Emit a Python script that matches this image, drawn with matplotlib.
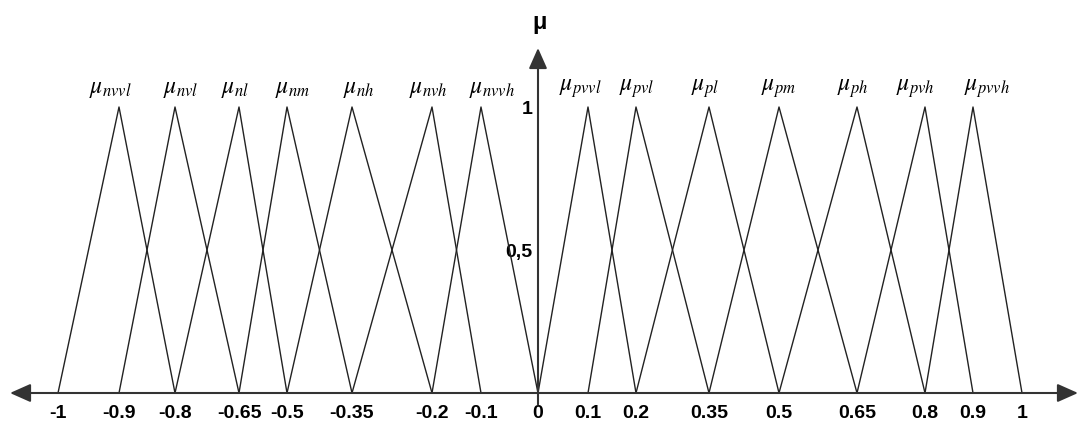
import numpy as np
import matplotlib.pyplot as plt

# universe of discourse: breakpoints of the fuzzy partition
breaks = [-1, -0.9, -0.8, -0.65, -0.5, -0.35, -0.2, -0.1, 0,
          0.1, 0.2, 0.35, 0.5, 0.65, 0.8, 0.9, 1]
tick_labels = ['-1', '-0.9', '-0.8', '-0.65', '-0.5', '-0.35', '-0.2', '-0.1', '0',
               '0.1', '0.2', '0.35', '0.5', '0.65', '0.8', '0.9', '1']

# fuzzy sets, left to right (negative side, then positive side)
neg_sets = ['nvvl', 'nvl', 'nl', 'nm', 'nh', 'nvh', 'nvvh']
pos_sets = ['pvvl', 'pvl', 'pl', 'pm', 'ph', 'pvh', 'pvvh']
tri_mu = [0, 1, 0]  # membership at left foot, peak, right foot

y_ticks = [0.5, 1]
y_tick_labels = ['0,5', '1']

# --- layout: the hand drawn original has uneven spacing between breakpoints
px_knots = [58, 119, 175, 239, 287, 352, 432, 481, 538,
            588, 636, 709, 779, 857, 925, 973, 1022]
kv = np.r_[-2, breaks, 2]
kp = np.r_[58 - 600, px_knots, 1022 + 490]


def fwd(v):
    return np.interp(v, kv, kp)


def inv(p):
    return np.interp(p, kp, kv)


W, H = 1081, 434
y_axis_px = 393   # pixel row of mu = 0
unit_px = 286     # pixels per membership unit

plt.rcParams['mathtext.fontset'] = 'stix'
fig = plt.figure(figsize=(W / 100, H / 100), dpi=100)
ax = fig.add_axes([0, 0, 1, 1])
ax.set_xscale('function', functions=(fwd, inv))
ax.set_xlim(inv(0), inv(W))
ax.set_ylim(-(H - y_axis_px) / unit_px, y_axis_px / unit_px)

line_kw = dict(color='#222222', lw=1.0)
names = neg_sets + pos_sets
starts = list(range(0, 7)) + list(range(8, 15))
label_dx = [-9, 6, -4, 6, 7, -4, 11, -8, 1, -4, 0, -4, -10, 14]  # px nudges of the labels
for name, k, dx in zip(names, starts, label_dx):
    xs = breaks[k:k + 3]
    ax.plot(xs, tri_mu, **line_kw)
    peak = xs[1]
    ax.annotate(r'$\mu_{%s}$' % name, xy=(peak, 1.066), xytext=(dx * 0.72, 0),
                textcoords='offset points', ha='center', va='center', fontsize=17)

# axes drawn as arrows
ax.annotate('', xy=(inv(1078), 0), xytext=(inv(10), 0),
            arrowprops=dict(arrowstyle='<|-|>,head_length=0.9,head_width=0.4',
                            color='#333333', lw=1.5, shrinkA=0, shrinkB=0,
                            mutation_scale=14))
ax.annotate('', xy=(0, (y_axis_px - 48) / unit_px), xytext=(0, -0.04),
            arrowprops=dict(arrowstyle='-|>,head_length=0.9,head_width=0.4',
                            color='#333333', lw=1.5, shrinkA=0, shrinkB=0,
                            mutation_scale=14))
ax.text(0.003, (y_axis_px - 22) / unit_px, 'μ', ha='center', va='center',
        fontsize=17, fontweight='bold', family='Liberation Sans')

for s in ax.spines.values():
    s.set_visible(False)
ax.spines['bottom'].set_position(('data', 0))
ax.spines['left'].set_position(('data', 0))

ax.set_xticks(breaks)
ax.set_xticklabels(tick_labels)
ax.set_yticks(y_ticks)
ax.set_yticklabels(y_tick_labels)
ax.tick_params(axis='x', length=0, pad=9)
ax.tick_params(axis='y', length=0, pad=4)
for lab in ax.get_xticklabels() + ax.get_yticklabels():
    lab.set_fontfamily('Liberation Sans')
    lab.set_fontweight('bold')
    lab.set_fontsize(14)

fig.savefig('out.png', dpi=100, facecolor='white')
